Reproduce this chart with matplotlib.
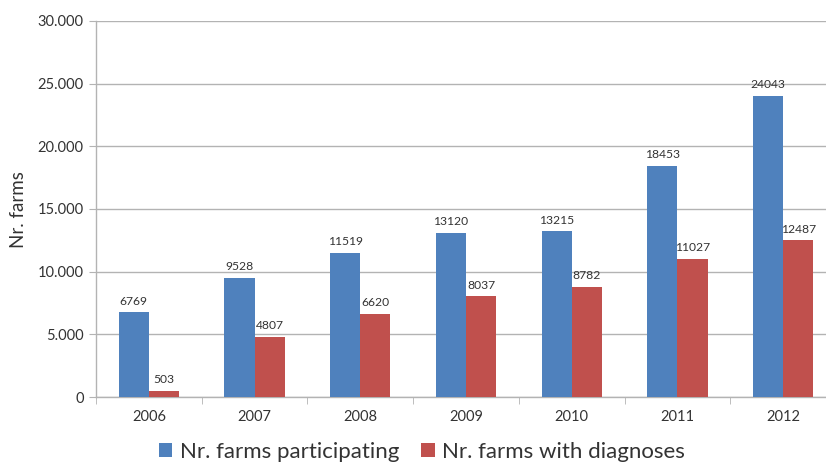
import matplotlib
matplotlib.use("Agg")
import matplotlib.pyplot as plt
from matplotlib.ticker import FuncFormatter, FixedLocator
import numpy as np

years = ["2006", "2007", "2008", "2009", "2010", "2011", "2012"]
participating = [6769, 9528, 11519, 13120, 13215, 18453, 24043]
with_diagnoses = [503, 4807, 6620, 8037, 8782, 11027, 12487]
series_names = ["Nr. farms participating", "Nr. farms with diagnoses"]

plt.rcParams["font.family"] = ["Lato", "DejaVu Sans"]
text_color = "#333333"
blue = "#4F81BD"
red = "#C0504D"
grid_color = "#B3B3B3"

fig = plt.figure(figsize=(8.26, 4.65), dpi=100)
ax = fig.add_axes([96 / 826, 1 - 397 / 465, (836 - 96) / 826, (397 - 21) / 465])

x = np.arange(len(years))
w = 1 / 3.5
b1 = ax.bar(x - w / 2, participating, width=w, color=blue, zorder=3, label=series_names[0])
b2 = ax.bar(x + w / 2, with_diagnoses, width=w, color=red, zorder=3, label=series_names[1])

for bars, vals in ((b1, participating), (b2, with_diagnoses)):
    for rect, v in zip(bars, vals):
        ax.annotate(str(v), (rect.get_x() + rect.get_width() / 2, v),
                    xytext=(0, 4), textcoords="offset points",
                    ha="center", va="bottom", fontsize=8.7, color=text_color, zorder=4)

ax.set_xlim(-0.5, len(years) - 0.5)
ax.set_ylim(0, 30000)
ax.yaxis.set_major_locator(FixedLocator(np.arange(0, 30001, 5000)))
ax.yaxis.set_major_formatter(FuncFormatter(lambda v, p: "0" if v == 0 else f"{int(v):,}".replace(",", ".")))
ax.grid(axis="y", color=grid_color, linewidth=1, zorder=0)

ax.set_xticks(x)
ax.set_xticklabels(years)
ax.set_xticks(np.arange(-0.5, len(years)), minor=True)
ax.tick_params(axis="x", which="major", length=0, pad=9, labelsize=10.5, labelcolor=text_color)
ax.tick_params(axis="x", which="minor", length=5, color=grid_color, direction="out")
ax.tick_params(axis="y", length=5, color=grid_color, pad=4, labelsize=10.5, labelcolor=text_color)

for s in ("top", "right"):
    ax.spines[s].set_visible(False)
for s in ("left", "bottom"):
    ax.spines[s].set_color(grid_color)
    ax.spines[s].set_linewidth(1)

fig.text(18 / 826, 1 - 210 / 465, "Nr. farms", rotation=90, ha="center", va="center",
         fontsize=13.5, color=text_color)

fig.legend(handles=[b1, b2], loc="center", bbox_to_anchor=(422 / 826, 1 - 452 / 465),
           ncol=2, frameon=False, fontsize=16, handlelength=0.6, handleheight=0.6,
           handletextpad=0.35, columnspacing=1.0, labelcolor=text_color,
           borderpad=0.2)

fig.savefig("out.png", dpi=100)
